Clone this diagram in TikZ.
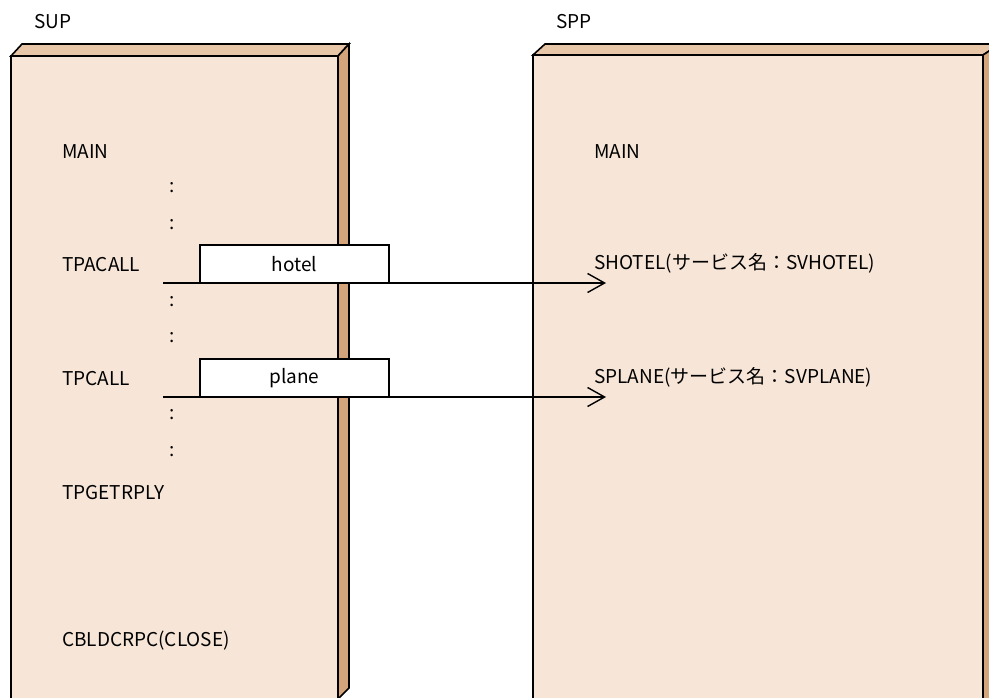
\documentclass[tikz,border=0pt]{standalone}
\usepackage{fontspec}
\setmainfont{Noto Sans CJK JP}
\usetikzlibrary{arrows.meta}
\definecolor{frontface}{HTML}{F7E6D7}
\definecolor{topface}{HTML}{E8C6A8}
\definecolor{sideface}{HTML}{D4A47A}
\begin{document}
\begin{tikzpicture}[
  x=1pt,y=-1pt,
  face/.style={draw=black, line width=1.6pt, line join=miter},
  txt/.style={anchor=west, inner sep=0pt, font=\fontsize{19}{22}\selectfont},
  dots/.style={inner sep=0pt, font=\fontsize{19}{22}\selectfont},
  msgbox/.style={draw=black, fill=white, line width=1.4pt, minimum width=189pt,
                 minimum height=38pt, inner sep=0pt, font=\fontsize{19}{22}\selectfont},
  call/.style={-{Straight Barb[length=17pt,width=19pt,line width=1.4pt]}, line width=1.4pt}
]
  \useasboundingbox (0,0) rectangle (989,698);
  \clip (0,0) rectangle (989,698);

  % SUP process
  \fill[frontface] (11,56) rectangle (338,710);
  \draw[face] (11,710) -- (11,56) -- (338,56) -- (338,710);
  \draw[face, fill=topface] (11,56) -- (22,44) -- (349,44) -- (338,56) -- cycle;
  \draw[face, fill=sideface] (338,56) -- (349,44) -- (349,688) -- (338,699) -- cycle;

  % SPP process
  \fill[frontface] (533,55) rectangle (983,710);
  \draw[face] (533,710) -- (533,55) -- (983,55) -- (983,710);
  \draw[face, fill=topface] (533,55) -- (545,44) -- (1000,44) -- (983,55) -- cycle;
  \draw[face, fill=sideface] (983,55) -- (1000,44) -- (1000,710) -- (983,710) -- cycle;

  \node[txt] (sup) at (34,22) {SUP};
  \node[txt] (spp) at (556,22) {SPP};

  % client side
  \node[txt] (main1) at (62,152) {MAIN};
  \node[dots] (d1) at (172,188) {:};
  \node[dots] (d2) at (172,225) {:};
  \node[txt] (tpacall) at (62,265) {TPACALL};
  \node[dots] (d3) at (172,302) {:};
  \node[dots] (d4) at (172,338) {:};
  \node[txt] (tpcall) at (62,379) {TPCALL};
  \node[dots] (d5) at (172,415) {:};
  \node[dots] (d6) at (172,452) {:};
  \node[txt] (tpget) at (62,493) {TPGETRPLY};
  \node[txt] (close) at (62,641) {CBLDCRPC(CLOSE)};

  % server side
  \node[txt] (main2) at (594,152) {MAIN};
  \node[txt] (shotel) at (594,263) {SHOTEL(サービス名：SVHOTEL)};
  \node[txt] (splane) at (594,377) {SPLANE(サービス名：SVPLANE)};

  % calls
  \coordinate (hotelfrom) at (163,283);
  \coordinate (hotelto) at (606,283);
  \coordinate (planefrom) at (163,397);
  \coordinate (planeto) at (606,397);
  \draw[call] (hotelfrom) -- (hotelto);
  \draw[call] (planefrom) -- (planeto);
  \node[msgbox] (hotel) at (294.5,264) {hotel};
  \node[msgbox] (plane) at (294.5,378) {plane};
\end{tikzpicture}
\end{document}
